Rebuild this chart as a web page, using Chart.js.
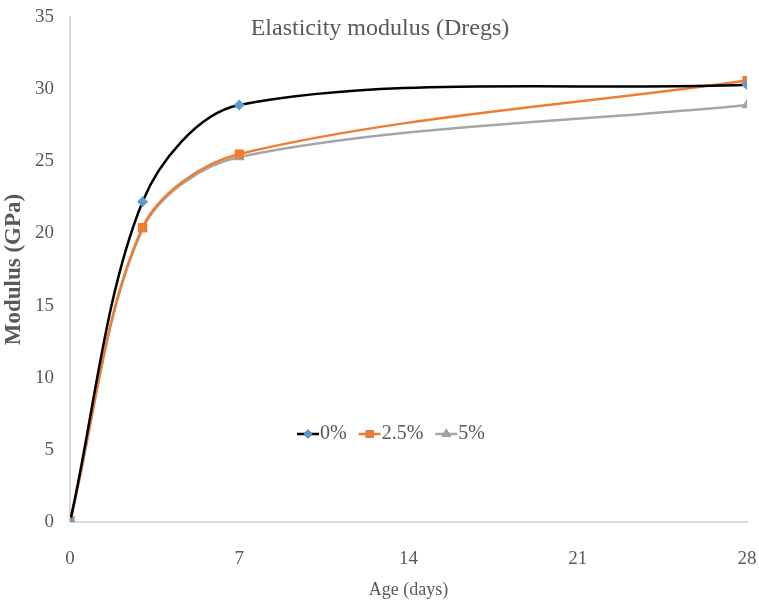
<!DOCTYPE html>
<html>
<head>
<meta charset="utf-8">
<script src="https://cdn.jsdelivr.net/npm/chart.js@4.4.0/dist/chart.umd.min.js"></script>
<style>
  html, body { margin: 0; padding: 0; background: #fff; }
  #wrap { width: 759px; height: 609px; }
</style>
</head>
<body>
<div id="wrap"><canvas id="chart"></canvas></div>
<script>
// data
var ages = [0, 3, 7, 28];
var series0 = [0, 22.2, 28.9, 30.3];
var series25 = [0.1, 20.4, 25.5, 30.6];
var series5 = [0, 20.3, 25.3, 28.9];
var xTicks = [0, 7, 14, 21, 28];
var seriesNames = ['0%', '2.5%', '5%'];

var serif = '"Liberation Serif", "Times New Roman", serif';
var textGray = '#595959';

function pts(ys) {
    return ages.map(function (a, i) { return { x: a, y: ys[i] }; });
}

// title sits inside the plot area, so draw it by hand
var titlePlugin = {
    id: 'insideTitle',
    afterDraw: function (chart) {
        var ctx = chart.ctx;
        ctx.save();
        ctx.font = '24px ' + serif;
        ctx.fillStyle = textGray;
        ctx.textAlign = 'center';
        ctx.textBaseline = 'middle';
        ctx.fillText('Elasticity modulus (Dregs)', 380, 29);
        ctx.restore();
    }
};

// legend floating in the middle of the plot: line + marker + label
var legendPlugin = {
    id: 'midLegend',
    afterDraw: function (chart) {
        var ctx = chart.ctx;
        var x = 297, y = 434;
        ctx.save();
        ctx.font = '20px ' + serif;
        ctx.textBaseline = 'middle';
        chart.data.datasets.forEach(function (ds) {
            ctx.strokeStyle = ds.borderColor;
            ctx.lineWidth = 2.5;
            ctx.beginPath();
            ctx.moveTo(x, y);
            ctx.lineTo(x + 22, y);
            ctx.stroke();
            Chart.helpers.drawPoint(ctx, {
                pointStyle: ds.pointStyle,
                radius: ds.pointRadius - 1,
                rotation: 0,
                borderWidth: 0
            }, x + 11, y);
            ctx.fillStyle = ds.pointBackgroundColor;
            ctx.fill();
            ctx.fillStyle = textGray;
            ctx.fillText(ds.label, x + 23, y);
            x += 23 + ctx.measureText(ds.label).width + 12;
        });
        ctx.restore();
    }
};

new Chart(document.getElementById('chart'), {
    type: 'line',
    data: {
        datasets: [
            {
                label: seriesNames[0],
                data: pts(series0),
                borderColor: '#000000',
                borderWidth: 2.5,
                pointStyle: 'rectRot',
                pointRadius: 5.5,
                pointBackgroundColor: '#5b9bd5',
                pointBorderWidth: 0,
                tension: 0.32
            },
            {
                label: seriesNames[1],
                data: pts(series25),
                borderColor: '#ed7d31',
                borderWidth: 2.5,
                pointStyle: 'rect',
                pointRadius: 6.5,
                pointBackgroundColor: '#ed7d31',
                pointBorderWidth: 0,
                tension: 0.32
            },
            {
                label: seriesNames[2],
                data: pts(series5),
                borderColor: '#a5a5a5',
                borderWidth: 2.5,
                pointStyle: 'triangle',
                pointRadius: 6.5,
                pointBackgroundColor: '#a5a5a5',
                pointBorderWidth: 0,
                tension: 0.32
            }
        ]
    },
    options: {
        responsive: true,
        maintainAspectRatio: false,
        animation: false,
        layout: { padding: { top: 17, right: 12, left: 0, bottom: 0 } },
        plugins: {
            legend: { display: false },
            title: { display: false },
            tooltip: { enabled: false }
        },
        scales: {
            x: {
                type: 'linear',
                min: 0,
                max: 28,
                afterBuildTicks: function (scale) {
                    scale.ticks = xTicks.map(function (v) { return { value: v }; });
                },
                afterFit: function (scale) { scale.height = 87; },
                // grid hidden, tickLength used only to push the labels down
                grid: { display: false, drawTicks: true, tickLength: 26 },
                border: { display: true, color: '#d9d9d9', width: 2 },
                ticks: { padding: 0, color: textGray, font: { family: serif, size: 19 } },
                title: {
                    display: true,
                    text: 'Age (days)',
                    color: textGray,
                    font: { family: serif, size: 18 },
                    padding: { top: 4, bottom: 8 }
                }
            },
            y: {
                min: 0,
                max: 35,
                afterFit: function (scale) { scale.width = 70; },
                grid: { display: false, drawTicks: true, tickLength: 16 },
                border: { display: true, color: '#d9d9d9', width: 2 },
                ticks: { stepSize: 5, padding: 0, color: textGray, font: { family: serif, size: 19 } },
                title: {
                    display: true,
                    text: 'Modulus (GPa)',
                    color: textGray,
                    font: { family: serif, size: 23, weight: 'bold' },
                    padding: { top: 0, bottom: 4 }
                }
            }
        }
    },
    plugins: [titlePlugin, legendPlugin]
});
</script>
</body>
</html>
